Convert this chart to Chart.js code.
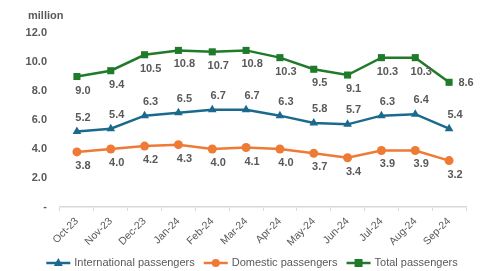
<!DOCTYPE html>
<html>
<head>
<meta charset="utf-8">
<script src="https://cdn.jsdelivr.net/npm/chart.js@4"></script>
<style>
    body { margin: 0; background: #fff; }
    #wrap { width: 486px; height: 271px; position: relative; }
</style>
</head>
<body>
<div id="wrap"><canvas id="line-chart" width="486" height="271"></canvas></div>
<script>
const months = ["Oct-23", "Nov-23", "Dec-23", "Jan-24", "Feb-24", "Mar-24", "Apr-24", "May-24", "Jun-24", "Jul-24", "Aug-24", "Sep-24"];
const international = [5.2, 5.4, 6.3, 6.5, 6.7, 6.7, 6.3, 5.8, 5.7, 6.3, 6.4, 5.4];
const domestic = [3.8, 4.0, 4.2, 4.3, 4.0, 4.1, 4.0, 3.7, 3.4, 3.9, 3.9, 3.2];
const total = [9.0, 9.4, 10.5, 10.8, 10.7, 10.8, 10.3, 9.5, 9.1, 10.3, 10.3, 8.6];
const yTicks = [0, 2, 4, 6, 8, 10, 12];

const textGray = "#595959";
const fontFamily = "'Liberation Sans', Arial, sans-serif";

/* value labels next to the points */
const valueLabels = {
    id: "valueLabels",
    afterDatasetsDraw(chart) {
        const ctx = chart.ctx;
        ctx.save();
        ctx.font = "bold 11px " + fontFamily;
        ctx.fillStyle = textGray;
        ctx.textAlign = "center";
        ctx.textBaseline = "middle";
        chart.data.datasets.forEach(function(ds, di) {
            const meta = chart.getDatasetMeta(di);
            meta.data.forEach(function(pt, i) {
                let pos = ds.labelPos;
                if (ds.labelLastRight && i == ds.data.length - 1) pos = "right";
                let x = pt.x + 6;
                let y = pt.y + (pos == "above" ? -14 : 14);
                if (pos == "right") {
                    x = pt.x + 17;
                    y = pt.y + 1;
                }
                ctx.fillText(ds.data[i].toFixed(1), x, y);
            });
        });
        ctx.restore();
    },
};

/* unit title + legend with line and marker */
const extras = {
    id: "extras",
    afterDraw(chart) {
        const ctx = chart.ctx;
        ctx.save();
        ctx.fillStyle = textGray;
        ctx.font = "bold 11px " + fontFamily;
        ctx.textAlign = "left";
        ctx.textBaseline = "middle";
        ctx.fillText("million", 28, 16);

        ctx.font = "11px " + fontFamily;
        const lineLen = 24;
        const gapText = 4;
        const gapItem = 9;
        const items = chart.data.datasets;
        let totalW = 0;
        items.forEach(function(ds, i) {
            totalW += lineLen + gapText + ctx.measureText(ds.label).width;
            if (i > 0) totalW += gapItem;
        });
        let x = 252 - totalW / 2;
        const y = 263;
        items.forEach(function(ds) {
            ctx.strokeStyle = ds.borderColor;
            ctx.lineWidth = 2.5;
            ctx.beginPath();
            ctx.moveTo(x, y);
            ctx.lineTo(x + lineLen, y);
            ctx.stroke();
            ctx.fillStyle = ds.borderColor;
            const cx = x + lineLen / 2;
            ctx.beginPath();
            if (ds.pointStyle == "rect") {
                ctx.rect(cx - 4, y - 4, 8, 8);
            } else if (ds.pointStyle == "triangle") {
                ctx.moveTo(cx, y - 5);
                ctx.lineTo(cx + 4.5, y + 3);
                ctx.lineTo(cx - 4.5, y + 3);
                ctx.closePath();
            } else {
                ctx.arc(cx, y, 4, 0, Math.PI * 2);
            }
            ctx.fill();
            ctx.fillStyle = textGray;
            ctx.fillText(ds.label, x + lineLen + gapText, y);
            x += lineLen + gapText + ctx.measureText(ds.label).width + gapItem;
        });
        ctx.restore();
    },
};

const lineChart = document.querySelector("#line-chart");
new Chart(lineChart, {
    type: "line",
    data: {
        labels: months,
        datasets: [{
            label: "International passengers",
            data: international,
            borderColor: "#1B6A8D",
            backgroundColor: "#1B6A8D",
            pointStyle: "triangle",
            pointRadius: 5,
            labelPos: "above",
        }, {
            label: "Domestic passengers",
            data: domestic,
            borderColor: "#EE7A36",
            backgroundColor: "#EE7A36",
            pointStyle: "circle",
            pointRadius: 4.5,
            labelPos: "below",
        }, {
            label: "Total passengers",
            data: total,
            borderColor: "#1F7A29",
            backgroundColor: "#1F7A29",
            pointStyle: "rect",
            pointRadius: 5,
            labelPos: "below",
            labelLastRight: true,
        }, ],
    },
    options: {
        responsive: false,
        animation: false,
        datasets: {
            line: { borderWidth: 2.5, tension: 0, pointBorderWidth: 0 },
        },
        layout: {
            padding: { top: 33, right: 20, bottom: 21, left: 0 },
        },
        plugins: {
            legend: { display: false },
            tooltip: { enabled: false },
        },
        scales: {
            x: {
                offset: true,
                grid: {
                    display: true,
                    drawOnChartArea: false,
                    offset: true,
                    color: "#D9D9D9",
                    tickLength: 4,
                },
                border: { color: "#D9D9D9", width: 1.5 },
                ticks: {
                    color: textGray,
                    font: { family: fontFamily, size: 10.5 },
                    minRotation: 45,
                    maxRotation: 45,
                    padding: 4,
                },
                afterFit(scale) {
                    scale.height = 43;
                },
            },
            y: {
                min: 0,
                max: 12,
                afterBuildTicks(scale) {
                    scale.ticks = yTicks.map(function(v) { return { value: v }; });
                },
                grid: { display: false },
                border: { display: false },
                ticks: {
                    color: textGray,
                    font: { family: fontFamily, size: 11, weight: "bold" },
                    padding: 5,
                    callback: function(v) {
                        return v == 0 ? "-" : v.toFixed(1);
                    },
                },
                afterFit(scale) {
                    scale.width = 60;
                },
            },
        },
    },
    plugins: [valueLabels, extras],
});
</script>
</body>
</html>
